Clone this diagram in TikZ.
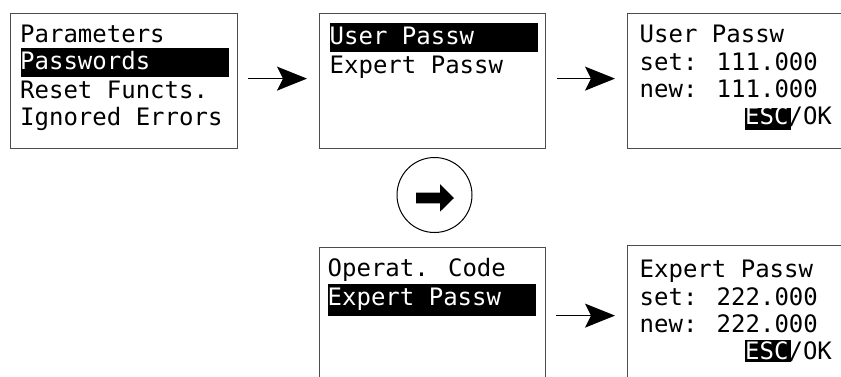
\documentclass[tikz,border=0pt]{standalone}
\usepackage{fontspec}
\newfontfamily\lcd{DejaVu Sans Mono}
\usetikzlibrary{arrows.meta}
\begin{document}
\begin{tikzpicture}[x=1pt,y=-1pt,
  screen/.style={draw=black!70, line width=1.2pt, rectangle, inner sep=0pt, anchor=north west},
  hl/.style={fill=black, draw=none, rectangle, inner sep=0pt, anchor=north west},
  txt/.style={anchor=base west, inner sep=0pt, font=\lcd\fontsize{24}{28}\selectfont},
  wtxt/.style={txt, text=white},
  arr/.style={line width=1.5pt, -{Stealth[length=30pt,width=24pt,inset=6pt]}}
]
\useasboundingbox (0,0) rectangle (841,376);
\clip (0,0) rectangle (841,376);
% screens
\node[screen, minimum width=227pt, minimum height=135pt] (b1) at (10,13) {};
\node[screen, minimum width=226pt, minimum height=135pt] (b2) at (319,13) {};
\node[screen, minimum width=240pt, minimum height=135pt] (b3) at (627,13) {};
\node[screen, minimum width=226pt, minimum height=160pt] (b4) at (319,247) {};
\node[screen, minimum width=240pt, minimum height=160pt] (b5) at (627,245) {};
% highlights
\node[hl, minimum width=208pt, minimum height=29pt] (h1) at (21,48) {};
\node[hl, minimum width=208pt, minimum height=29pt] (h2) at (330,23) {};
\node[hl, minimum width=46pt, minimum height=22pt] (h3) at (745,108) {};
\node[hl, minimum width=208pt, minimum height=32pt] (h4) at (328,284) {};
\node[hl, minimum width=46pt, minimum height=22pt] (h5) at (745,340) {};
% box 1
\node[txt] (t11) at (20,42) {Parameters};
\node[wtxt] (t12) at (20,69.5) {Passwords};
\node[txt] (t13) at (20,98) {Reset Functs.};
\node[txt] (t14) at (20,125) {Ignored Errors};
% box 2
\node[wtxt] (t21) at (329.5,44.5) {User Passw};
\node[txt] (t22) at (329.5,73) {Expert Passw};
% box 3
\node[txt] (t31) at (639.5,42.3) {User Passw};
\node[txt] (t32) at (639.5,70) {set: 111.000};
\node[txt] (t33) at (639.5,97) {new: 111.000};
\node[txt] (t34) at (745,124) {\textcolor{white}{ESC}/OK};
% box 4
\node[txt] (t41) at (327.5,276.7) {Operat. Code};
\node[wtxt] (t42) at (327.5,305) {Expert Passw};
% box 5
\node[txt] (t51) at (639.5,277.3) {Expert Passw};
\node[txt] (t52) at (639.5,305) {set: 222.000};
\node[txt] (t53) at (639.5,332.7) {new: 222.000};
\node[txt] (t54) at (745,359) {\textcolor{white}{ESC}/OK};
% arrows
\draw[arr, shorten <=10pt, shorten >=12pt] ([yshift=2.5pt]b1.east) -- ([yshift=2.5pt]b2.west);
\draw[arr, shorten <=11pt, shorten >=12pt] ([yshift=2.5pt]b2.east) -- ([yshift=2.5pt]b3.west);
\draw[arr, shorten <=10pt, shorten >=12pt] ([yshift=12pt]b4.east) -- ([yshift=12pt]b4.east -| b5.west);
% circle with block arrow
\node[circle, draw=black, line width=1pt, minimum size=75pt, inner sep=0pt] (c) at (434.5,195) {};
\fill[black] (416,192.7) -- (440,192.7) -- (440,184) -- (454,198) -- (440,211.7) -- (440,203.3) -- (416,203.3) -- cycle;
\end{tikzpicture}
\end{document}
